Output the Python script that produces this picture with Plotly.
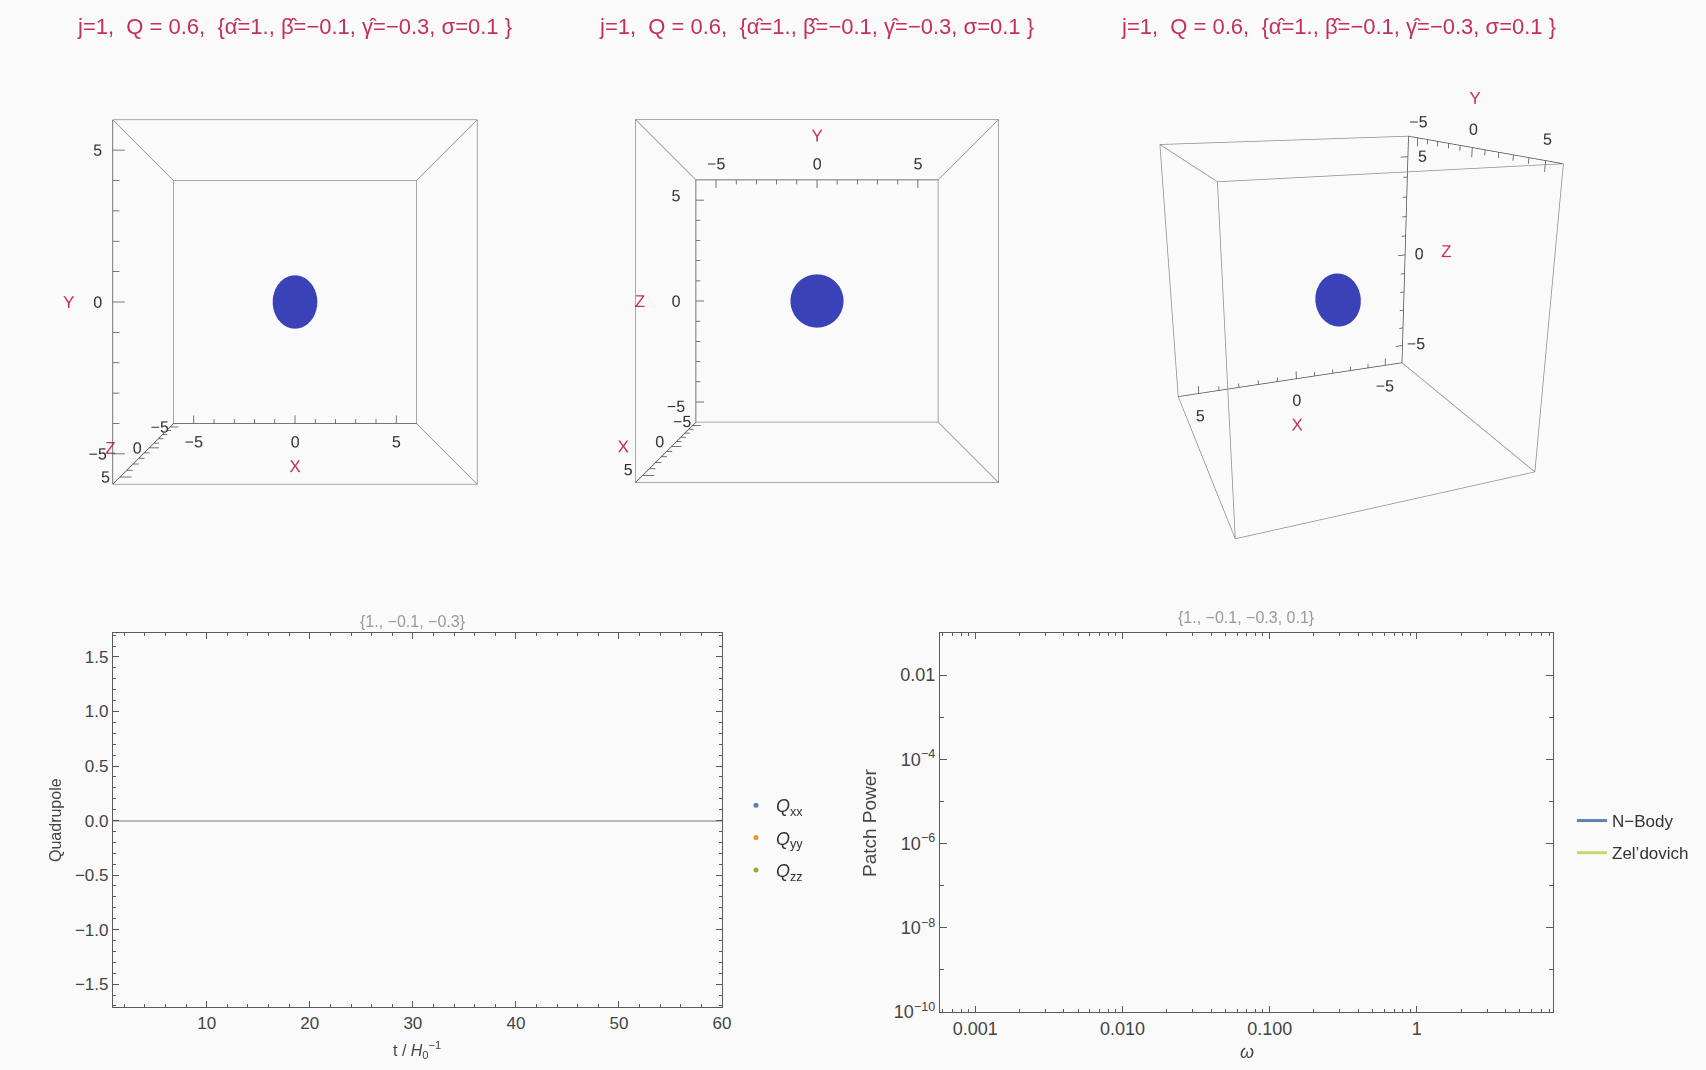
import numpy as np
import plotly.graph_objects as go

# ---------------- data ----------------
TITLE = "j=1,  Q = 0.6,  {α\u0302=1., β\u0302=\u22120.1, γ\u0302=\u22120.3, σ=0.1 }"
SUB_LEFT = "{1., \u22120.1, \u22120.3}"
SUB_RIGHT = "{1., \u22120.1, \u22120.3, 0.1}"

BOX_RANGE = [-6, 6]          # plotted box of the 3D views
SCENE_RANGE = [-9, 9]        # room around the box for labels
CLOUD_CENTER = [0.0, 0.0, 0.0]
CLOUD_RADII = [0.92, 1.1, 1.1]
TICK3D_MAJOR = [-5, 0, 5]
TICK3D_MAJOR_TEXT = ["\u22125", "0", "5"]
TICK3D_MINOR = [-4, -3, -2, -1, 1, 2, 3, 4]

T_VALUES = []
QXX = []
QYY = []
QZZ = []
OMEGA = []
P_NBODY = []
P_ZELDOVICH = []

Q_RANGE_T = [0.9, 60]
Q_RANGE_Y = [-1.71, 1.72]
P_RANGE_W = [-3.24, 0.925]   # log10
P_RANGE_P = [-10, -1]        # log10

RED = "#c4305a"
FONT = "Liberation Sans"
W, H = 1706, 1070

fig = go.Figure()

# ---------------- 3D panels ----------------
b0, b1 = BOX_RANGE
corners = [(x, y, z) for x in (b0, b1) for y in (b0, b1) for z in (b0, b1)]
ex, ey, ez = [], [], []
for i in range(len(corners)):
    for j in range(i + 1, len(corners)):
        if sum(1 for a, c in zip(corners[i], corners[j]) if a != c) == 1:
            for p in (corners[i], corners[j]):
                ex.append(p[0]); ey.append(p[1]); ez.append(p[2])
            ex.append(None); ey.append(None); ez.append(None)

u = np.linspace(0, 2 * np.pi, 40)
v = np.linspace(0, np.pi, 20)
U, V = np.meshgrid(u, v)
cx = (CLOUD_CENTER[0] + CLOUD_RADII[0] * np.cos(U) * np.sin(V)).ravel()
cy = (CLOUD_CENTER[1] + CLOUD_RADII[1] * np.sin(U) * np.sin(V)).ravel()
cz = (CLOUD_CENTER[2] + CLOUD_RADII[2] * np.cos(V)).ravel()

# eye distance expressed in box half-sizes
h_norm = 0.5 * (b1 - b0) / (SCENE_RANGE[1] - SCENE_RANGE[0])
DIST = 5.0 * h_norm
v3 = np.array([0.34, 0.89, 0.30]); v3 = v3 / np.linalg.norm(v3)
cams = [
    dict(eye=dict(x=0, y=0, z=DIST), up=dict(x=0, y=1, z=0)),
    dict(eye=dict(x=DIST, y=0, z=0), up=dict(x=0, y=0, z=1)),
    dict(eye=dict(x=DIST * v3[0], y=DIST * v3[1], z=DIST * v3[2]), up=dict(x=0, y=0, z=1)),
]
centers_px = [(295, 302), (817, 301), (1338, 300)]
HALF_W = 295

# axis specs: (name, axis index, base point, tick direction, label offset, title offset, title param)
AXES = [
    [  # panel 1 : view from +z
        ("X", 0, (0, -6, -6), (0, 1, 0), (0, -0.9, 0), (0, -2.1, 0), 0),
        ("Y", 1, (-6, 0, 6), (1, 0, 0), (-0.5, 0, 0), (-1.45, 0, 0), 0),
        ("Z", 2, (-6, -6, 0), (1, 0, 0), (-0.5, 0, 0), (-1.6, 0, 0), 0),
    ],
    [  # panel 2 : view from +x
        ("Y", 1, (-6, 0, 6), (0, 0, -1), (0, 0, 0.8), (0, 0, 2.2), 0),
        ("Z", 2, (-6, -6, 0), (0, 1, 0), (1.5, -0.7, 0), (12, 0.15, 0), 0),
        ("X", 0, (0, -6, -6), (0, 1, 0), (0, -0.5, 0.2), (0, -2.0, 0), 0),
    ],
    [  # panel 3 : oblique view
        ("X", 0, (0, -6, -6), (0, 0, 1), (0, 0, -1.2), (0, 0, -2.6), 0),
        ("Z", 2, (-6, -6, 0), (1, 0, 0), (-0.8, 0, 0), (-2.4, 0, 0), 0),
        ("Y", 1, (-6, 0, 6), (0, 0, -1), (0, 0, 0.75), (0, 0, 2.0), 0),
    ],
]

for k in range(3):
    sc = "scene" if k == 0 else f"scene{k+1}"
    fig.add_trace(go.Scatter3d(x=ex, y=ey, z=ez, mode="lines",
                               line=dict(color="#8c8c8c", width=1.5),
                               showlegend=False, hoverinfo="skip", scene=sc))
    fig.add_trace(go.Mesh3d(x=cx, y=cy, z=cz, alphahull=0, color="#3a42b8",
                            flatshading=True,
                            lighting=dict(ambient=1, diffuse=0, specular=0, roughness=1, fresnel=0),
                            showlegend=False, hoverinfo="skip", scene=sc))
    tx, ty, tz = [], [], []
    lx, ly, lz, lt = [], [], [], []
    nx, ny, nz, nt = [], [], [], []
    for (name, ai, base, tdir, loff, toff, tpar) in AXES[k]:
        p0 = list(base); p0[ai] = b0
        p1 = list(base); p1[ai] = b1
        for p in (p0, p1):
            tx.append(p[0]); ty.append(p[1]); tz.append(p[2])
        tx.append(None); ty.append(None); tz.append(None)
        for vals, ln in ((TICK3D_MAJOR, 0.4), (TICK3D_MINOR, 0.22)):
            for t in vals:
                p = list(base); p[ai] = t
                q = [p[m] + ln * tdir[m] for m in range(3)]
                for r in (p, q):
                    tx.append(r[0]); ty.append(r[1]); tz.append(r[2])
                tx.append(None); ty.append(None); tz.append(None)
        for t, s in zip(TICK3D_MAJOR, TICK3D_MAJOR_TEXT):
            p = list(base); p[ai] = t
            lx.append(p[0] + loff[0]); ly.append(p[1] + loff[1]); lz.append(p[2] + loff[2]); lt.append(s)
        p = list(base); p[ai] = tpar
        nx.append(p[0] + toff[0]); ny.append(p[1] + toff[1]); nz.append(p[2] + toff[2]); nt.append(name)
    fig.add_trace(go.Scatter3d(x=tx, y=ty, z=tz, mode="lines", line=dict(color="#4a4a4a", width=1.5),
                               showlegend=False, hoverinfo="skip", scene=sc))
    fig.add_trace(go.Scatter3d(x=lx, y=ly, z=lz, mode="text", text=lt, textposition="middle center",
                               textfont=dict(family=FONT, size=16, color="#333"),
                               showlegend=False, hoverinfo="skip", scene=sc))
    fig.add_trace(go.Scatter3d(x=nx, y=ny, z=nz, mode="text", text=nt, textposition="middle center",
                               textfont=dict(family=FONT, size=17, color=RED),
                               showlegend=False, hoverinfo="skip", scene=sc))

    hidden = dict(visible=False, range=SCENE_RANGE, autorange=False, showspikes=False)
    px_c, py_c = centers_px[k]
    dom_x = [max(0, (px_c - HALF_W) / W), min(1, (px_c + HALF_W) / W)]
    dom_y = [max(0, 1 - (2 * py_c) / H), 1.0]
    fig.update_layout(**{sc: dict(
        domain=dict(x=dom_x, y=dom_y),
        xaxis=hidden, yaxis=hidden, zaxis=hidden,
        aspectmode="cube",
        camera=dict(center=dict(x=0, y=0, z=0), projection=dict(type="perspective"), **cams[k]),
        bgcolor="rgba(0,0,0,0)",
    )})

# ---------------- 2D: quadrupole ----------------
QCOLORS = ["#5e81b5", "#e19c24", "#8fb032"]
for name, vals, col in zip(["<i>Q</i><sub>xx</sub>", "<i>Q</i><sub>yy</sub>", "<i>Q</i><sub>zz</sub>"],
                           [QXX, QYY, QZZ], QCOLORS):
    fig.add_trace(go.Scatter(x=T_VALUES if T_VALUES else [None], y=vals if vals else [None],
                             mode="markers", name=name, legendgroup=name,
                             marker=dict(color=col, size=5), xaxis="x", yaxis="y", legend="legend"))

# ---------------- 2D: patch power ----------------
for name, vals, col in zip(["N\u2212Body", "Zel\u2019dovich"], [P_NBODY, P_ZELDOVICH],
                           ["#5e81b5", "#c9d86e"]):
    fig.add_trace(go.Scatter(x=OMEGA if OMEGA else [None], y=vals if vals else [None],
                             mode="lines", name=name, legendgroup=name,
                             line=dict(color=col, width=3), xaxis="x2", yaxis="y2", legend="legend2"))

frame = dict(showline=True, linecolor="#5a5a5a", linewidth=1.3, mirror="allticks",
             ticks="inside", tickcolor="#5a5a5a", showgrid=False, automargin=False)

fig.update_layout(
    xaxis=dict(domain=[113 / W, 722 / W], range=Q_RANGE_T, anchor="y",
               tickvals=[10, 20, 30, 40, 50, 60], ticklen=6,
               tickfont=dict(family=FONT, size=17, color="#444"),
               minor=dict(ticks="inside", dtick=2, tick0=0, ticklen=3, tickcolor="#5a5a5a"),
               zeroline=False, **frame),
    yaxis=dict(domain=[1 - 1007 / H, 1 - 633 / H], range=Q_RANGE_Y, anchor="x",
               tickvals=[-1.5, -1.0, -0.5, 0.0, 0.5, 1.0, 1.5],
               ticktext=["\u22121.5", "\u22121.0", "\u22120.5", "0.0", "0.5", "1.0", "1.5"], ticklen=6,
               tickfont=dict(family=FONT, size=17, color="#444"),
               minor=dict(ticks="inside", dtick=0.1, tick0=0, ticklen=3, tickcolor="#5a5a5a"),
               zeroline=True, zerolinecolor="#b8b8b8", zerolinewidth=1.5, **frame),
    xaxis2=dict(domain=[940 / W, 1553 / W], type="log", range=P_RANGE_W, anchor="y2",
                tickvals=[0.001, 0.01, 0.1, 1], ticktext=["0.001", "0.010", "0.100", "1"], ticklen=6,
                tickfont=dict(family=FONT, size=18, color="#444"),
                minor=dict(ticks="inside", ticklen=3, tickcolor="#5a5a5a", tickmode="array",
                           tickvals=[m * 10.0 ** e for e in range(-4, 1) for m in range(2, 10)]),
                **frame),
    yaxis2=dict(domain=[1 - 1012 / H, 1 - 633 / H], type="log", range=P_RANGE_P, anchor="x2",
                tickvals=[1e-10, 1e-8, 1e-6, 1e-4, 1e-2],
                ticktext=["10<sup>\u221210</sup>", "10<sup>\u22128</sup>", "10<sup>\u22126</sup>",
                          "10<sup>\u22124</sup>", "0.01"], ticklen=7,
                tickfont=dict(family=FONT, size=18, color="#444"),
                minor=dict(ticks="inside", ticklen=4, tickcolor="#5a5a5a", tickmode="array",
                           tickvals=[1e-9, 1e-7, 1e-5, 1e-3, 1e-1]),
                **frame),
    legend=dict(x=736 / W, y=1 - 838 / H, xanchor="left", yanchor="middle",
                font=dict(family=FONT, size=18, color="#333"), bgcolor="rgba(0,0,0,0)",
                itemwidth=30, tracegroupgap=6),
    legend2=dict(x=1572 / W, y=1 - 837 / H, xanchor="left", yanchor="middle",
                 font=dict(family=FONT, size=17, color="#333"), bgcolor="rgba(0,0,0,0)",
                 tracegroupgap=7),
    width=W, height=H,
    margin=dict(l=0, r=0, t=0, b=0, autoexpand=False),
    paper_bgcolor="#fafafa", plot_bgcolor="#fafafa",
    showlegend=True, hovermode=False,
)

annots = []
for xc in [294, 816, 1338]:
    annots.append(dict(x=xc / W, y=1 - 27 / H, text=TITLE,
                       font=dict(family=FONT, size=22, color=RED)))
annots.append(dict(x=413 / W, y=1 - 621 / H, text=SUB_LEFT, font=dict(family=FONT, size=16, color="#9a9a9a")))
annots.append(dict(x=1246 / W, y=1 - 617 / H, text=SUB_RIGHT, font=dict(family=FONT, size=16, color="#9a9a9a")))
annots.append(dict(x=55 / W, y=1 - 820 / H, text="Quadrupole", textangle=-90,
                   font=dict(family=FONT, size=16, color="#444")))
annots.append(dict(x=417 / W, y=1 - 1050 / H, text="t / <i>H</i><sub>0</sub><sup>\u22121</sup>",
                   font=dict(family=FONT, size=16, color="#444")))
annots.append(dict(x=869 / W, y=1 - 823 / H, text="Patch Power", textangle=-90,
                   font=dict(family=FONT, size=19, color="#444")))
annots.append(dict(x=1247 / W, y=1 - 1052 / H, text="<i>ω</i>",
                   font=dict(family=FONT, size=18, color="#444")))
for a in annots:
    a.update(xref="paper", yref="paper", showarrow=False, xanchor="center", yanchor="middle")
fig.update_layout(annotations=annots)

fig.write_html("out.html")
